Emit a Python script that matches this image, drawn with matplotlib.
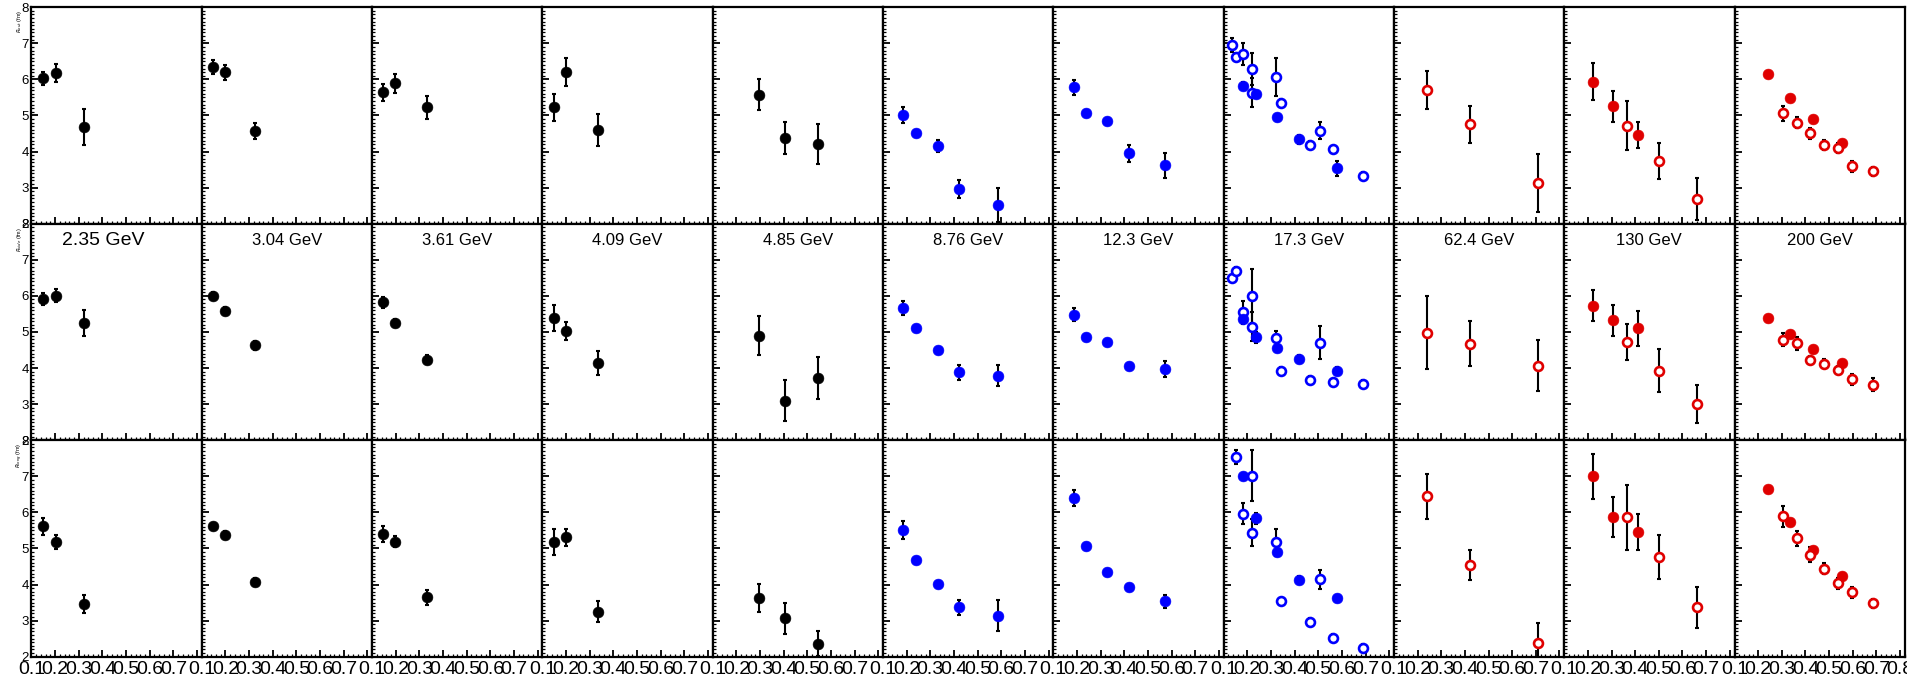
import numpy as np
import matplotlib
matplotlib.use("Agg")
import matplotlib.pyplot as plt
from matplotlib.ticker import MultipleLocator

plt.rcParams['font.family'] = ['Liberation Sans', 'DejaVu Sans']

# ---- data: kT (GeV) and HBT radii (fm) ----
ENERGIES = ["2.35 GeV", "3.04 GeV", "3.61 GeV", "4.09 GeV", "4.85 GeV", "8.76 GeV",
            "12.3 GeV", "17.3 GeV", "62.4 GeV", "130 GeV", "200 GeV"]
ROW_NAMES = ["$R_{out}$ (fm)", "$R_{side}$ (fm)", "$R_{long}$ (fm)"]

BLACK = "black"
BLUE = "#0000ff"
RED = "#e00000"

# 2.35 GeV
e235_x = [0.05, 0.104, 0.222]
e235_out = [6.03, 6.17, 4.67]
e235_out_err = [0.18, 0.25, 0.5]
e235_side = [5.92, 6.0, 5.25]
e235_side_err = [0.16, 0.18, 0.37]
e235_long = [5.61, 5.18, 3.46]
e235_long_err = [0.23, 0.2, 0.25]

# 3.04 GeV
e304_x = [0.047, 0.099, 0.227]
e304_out = [6.35, 6.20, 4.57]
e304_out_err = [0.2, 0.21, 0.23]
e304_side = [6.01, 5.59, 4.63]
e304_side_err = [0.1, 0.1, 0.12]
e304_long = [5.61, 5.38, 4.07]
e304_long_err = [0.1, 0.1, 0.12]

# 3.61 GeV
e361_x = [0.048, 0.098, 0.232]
e361_out = [5.64, 5.89, 5.23]
e361_out_err = [0.24, 0.26, 0.32]
e361_side = [5.82, 5.26, 4.23]
e361_side_err = [0.16, 0.1, 0.13]
e361_long = [5.41, 5.19, 3.65]
e361_long_err = [0.22, 0.15, 0.21]

# 4.09 GeV
e409_x = [0.05, 0.10, 0.235]
e409_out = [5.23, 6.21, 4.59]
e409_out_err = [0.37, 0.39, 0.44]
e409_side = [5.40, 5.03, 4.14]
e409_side_err = [0.36, 0.25, 0.32]
e409_long = [5.18, 5.31, 3.25]
e409_long_err = [0.36, 0.23, 0.29]

# 4.85 GeV
e485_x = [0.194, 0.305, 0.447]
e485_out = [5.57, 4.38, 4.21]
e485_out_err = [0.43, 0.45, 0.55]
e485_side = [4.90, 3.10, 3.72]
e485_side_err = [0.53, 0.56, 0.58]
e485_long = [3.63, 3.06, 2.36]
e485_long_err = [0.39, 0.43, 0.35]

# 8.76 GeV
e876_x = [0.083, 0.138, 0.232, 0.321, 0.487]
e876_out = [5.01, 4.50, 4.16, 2.95, 2.52]
e876_out_err = [0.22, 0.08, 0.16, 0.25, 0.46]
e876_side = [5.66, 5.10, 4.51, 3.88, 3.79]
e876_side_err = [0.2, 0.08, 0.08, 0.2, 0.3]
e876_long = [5.52, 4.67, 4.01, 3.37, 3.14]
e876_long_err = [0.25, 0.08, 0.08, 0.21, 0.42]

# 12.3 GeV
e123_x = [0.086, 0.14, 0.227, 0.32, 0.474]
e123_out = [5.78, 5.06, 4.85, 3.95, 3.62]
e123_out_err = [0.21, 0.08, 0.08, 0.23, 0.34]
e123_side = [5.48, 4.85, 4.72, 4.07, 3.97]
e123_side_err = [0.17, 0.08, 0.08, 0.08, 0.22]
e123_long = [6.40, 5.08, 4.35, 3.92, 3.53]
e123_long_err = [0.23, 0.08, 0.08, 0.08, 0.19]

# 17.3 GeV, filled
e173_x = [0.082, 0.139, 0.226, 0.32, 0.481]
e173_out = [5.83, 5.59, 4.95, 4.34, 3.53]
e173_out_err = [0.1, 0.1, 0.1, 0.13, 0.22]
e173_side = [5.36, 4.85, 4.56, 4.26, 3.92]
e173_side_err = [0.1, 0.15, 0.1, 0.1, 0.1]
e173_long = [7.0, 5.84, 4.89, 4.13, 3.62]
e173_long_err = [0.1, 0.15, 0.1, 0.1, 0.1]

# 17.3 GeV, open
e173o_x = [0.034, 0.052, 0.084, 0.121, 0.121, 0.22, 0.243, 0.366, 0.406, 0.464, 0.591]
e173o_out = [6.96, 6.62, 6.71, 6.29, 5.63, 6.06, 5.35, 4.18, 4.58, 4.06, 3.33]
e173o_out_err = [0.2, 0.1, 0.3, 0.45, 0.4, 0.52, 0.1, 0.1, 0.23, 0.1, 0.1]
e173o_side = [6.49, 6.70, 5.55, 6.00, 5.14, 4.82, 3.92, 3.67, 4.70, 3.60, 3.56]
e173o_side_err = [0.1, 0.1, 0.32, 0.75, 0.4, 0.2, 0.1, 0.1, 0.46, 0.1, 0.1]
e173o_long = [np.nan, 7.53, 5.96, 7.02, 5.44, 5.17, 3.53, 2.96, 4.15, 2.53, 2.25]
e173o_long_err = [0.1, 0.2, 0.29, 0.71, 0.38, 0.37, 0.1, 0.1, 0.26, 0.1, 0.1]

# 62.4 GeV, open
e624o_x = [0.141, 0.322, 0.61]
e624o_out = [5.71, 4.76, 3.13]
e624o_out_err = [0.52, 0.51, 0.81]
e624o_side = [4.98, 4.67, 4.07]
e624o_side_err = [1.02, 0.62, 0.72]
e624o_long = [6.44, 4.54, 2.39]
e624o_long_err = [0.61, 0.42, 0.55]

# 130 GeV, filled
e130_x = [0.12, 0.208, 0.311]
e130_out = [5.94, 5.26, 4.46]
e130_out_err = [0.52, 0.43, 0.37]
e130_side = [5.73, 5.32, 5.10]
e130_side_err = [0.42, 0.43, 0.49]
e130_long = [7.0, 5.87, 5.46]
e130_long_err = [0.62, 0.55, 0.5]

# 130 GeV, open
e130o_x = [0.264, 0.401, 0.563]
e130o_out = [4.72, 3.74, 2.68]
e130o_out_err = [0.67, 0.49, 0.59]
e130o_side = [4.72, 3.93, 3.00]
e130o_side_err = [0.49, 0.59, 0.52]
e130o_long = [5.87, 4.76, 3.37]
e130o_long_err = [0.9, 0.62, 0.57]

# 200 GeV, filled
e200_x = [0.143, 0.236, 0.33, 0.454]
e200_out = [6.15, 5.48, 4.90, 4.25]
e200_out_err = [0.05, 0.05, 0.05, 0.05]
e200_side = [5.40, 4.94, 4.53, 4.15]
e200_side_err = [0.05, 0.05, 0.05, 0.05]
e200_long = [6.65, 5.74, 4.96, 4.25]
e200_long_err = [0.05, 0.05, 0.05, 0.05]

# 200 GeV, open
e200o_x = [0.206, 0.263, 0.321, 0.377, 0.438, 0.497, 0.587]
e200o_out = [5.06, 4.80, 4.51, 4.18, 4.10, 3.59, 3.45]
e200o_out_err = [0.2, 0.15, 0.15, 0.15, 0.15, 0.15, 0.12]
e200o_side = [4.78, 4.69, 4.22, 4.12, 3.95, 3.69, 3.54]
e200o_side_err = [0.18, 0.18, 0.12, 0.12, 0.12, 0.15, 0.18]
e200o_long = [5.89, 5.28, 4.83, 4.44, 4.04, 3.78, 3.48]
e200o_long_err = [0.3, 0.2, 0.2, 0.15, 0.15, 0.15, 0.12]


def series(x, out, out_err, side, side_err, long_, long_err, color, hollow=False):
    return dict(x=x, rows=[(out, out_err), (side, side_err), (long_, long_err)],
                color=color, hollow=hollow)


panels = [
    [series(e235_x, e235_out, e235_out_err, e235_side, e235_side_err, e235_long, e235_long_err, BLACK)],
    [series(e304_x, e304_out, e304_out_err, e304_side, e304_side_err, e304_long, e304_long_err, BLACK)],
    [series(e361_x, e361_out, e361_out_err, e361_side, e361_side_err, e361_long, e361_long_err, BLACK)],
    [series(e409_x, e409_out, e409_out_err, e409_side, e409_side_err, e409_long, e409_long_err, BLACK)],
    [series(e485_x, e485_out, e485_out_err, e485_side, e485_side_err, e485_long, e485_long_err, BLACK)],
    [series(e876_x, e876_out, e876_out_err, e876_side, e876_side_err, e876_long, e876_long_err, BLUE)],
    [series(e123_x, e123_out, e123_out_err, e123_side, e123_side_err, e123_long, e123_long_err, BLUE)],
    [series(e173o_x, e173o_out, e173o_out_err, e173o_side, e173o_side_err, e173o_long, e173o_long_err, BLUE, True),
     series(e173_x, e173_out, e173_out_err, e173_side, e173_side_err, e173_long, e173_long_err, BLUE)],
    [series(e624o_x, e624o_out, e624o_out_err, e624o_side, e624o_side_err, e624o_long, e624o_long_err, RED, True)],
    [series(e130_x, e130_out, e130_out_err, e130_side, e130_side_err, e130_long, e130_long_err, RED),
     series(e130o_x, e130o_out, e130o_out_err, e130o_side, e130o_side_err, e130o_long, e130o_long_err, RED, True)],
    [series(e200_x, e200_out, e200_out_err, e200_side, e200_side_err, e200_long, e200_long_err, RED),
     series(e200o_x, e200o_out, e200o_out_err, e200o_side, e200o_side_err, e200o_long, e200o_long_err, RED, True)],
]

X_TICKS = [0.0, 0.1, 0.2, 0.3, 0.4, 0.5, 0.6, 0.7]
X_TICK_LABELS = ["0.1", "0.2", "0.3", "0.4", "0.5", "0.6", "0.7", ""]
X_TICK_LABELS_LAST = ["0.1", "0.2", "0.3", "0.4", "0.5", "0.6", "0.7", "0.8"]
Y_TICKS = [2, 3, 4, 5, 6, 7, 8]

W, H = 1907, 680
fig = plt.figure(figsize=(W / 100, H / 100), dpi=100)

left0, pw = 31.5, 170.3
top0, ph = 7.2, 216.5

for r in range(3):
    for c in range(11):
        ax = fig.add_axes([(left0 + c * pw) / W, 1 - (top0 + (r + 1) * ph) / H, pw / W, ph / H])
        for s in panels[c]:
            y, yerr = s['rows'][r]
            ax.errorbar(s['x'], y, yerr=yerr, fmt='none', ecolor='black', elinewidth=1.5,
                        capsize=1.6, capthick=1.5, zorder=2)
            if s['hollow']:
                ax.plot(s['x'], y, 'o', ms=6.4, mfc='white', mec=s['color'], mew=1.9,
                        ls='none', zorder=3)
            else:
                ax.plot(s['x'], y, 'o', ms=7.8, mfc=s['color'], mec=s['color'], mew=0.4,
                        ls='none', zorder=3)
        ax.set_xlim(0, 0.72)
        ax.set_ylim(2, 8)
        ax.set_xticks(X_TICKS)
        ax.set_yticks(Y_TICKS)
        ax.xaxis.set_minor_locator(MultipleLocator(0.02))
        ax.yaxis.set_minor_locator(MultipleLocator(0.1))
        ax.tick_params(which='both', direction='in', top=False, right=False)
        ax.tick_params(which='major', length=5, width=1.3)
        ax.tick_params(which='minor', length=2.5, width=0.9)
        for sp in ax.spines.values():
            sp.set_linewidth(1.6)
        if r == 2:
            labels = X_TICK_LABELS_LAST if c == 10 else X_TICK_LABELS
            ax.set_xticklabels(labels, fontsize=14)
            ax.tick_params(axis='x', pad=3)
        else:
            ax.set_xticklabels([])
        if c == 0:
            ax.set_yticklabels([str(v) for v in Y_TICKS], fontsize=9.5)
            ax.tick_params(axis='y', pad=2)
        else:
            ax.set_yticklabels([])
        if r == 1:
            if c == 0:
                ax.text(0.42, 0.921, ENERGIES[c], transform=ax.transAxes, ha='center',
                        va='center', fontsize=14)
            else:
                ax.text(0.5, 0.921, ENERGIES[c], transform=ax.transAxes, ha='center',
                        va='center', fontsize=12)
    fig.text(20 / W, 1 - (top0 + r * ph + 3) / H, ROW_NAMES[r], rotation=90,
             ha='center', va='top', fontsize=4)

fig.savefig("out.png", dpi=100)
